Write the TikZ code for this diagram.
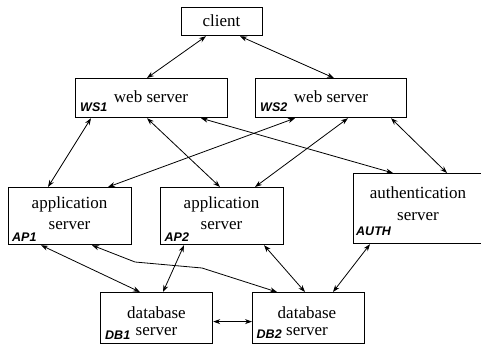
\documentclass[tikz,border=0pt]{standalone}
\usepackage{fontspec}
\setmainfont{Liberation Serif}
\newfontfamily\tagfont{Liberation Sans}
\usetikzlibrary{arrows.meta}
\begin{document}
\begin{tikzpicture}[x=1pt,y=-1pt,
  box/.style={draw, line width=1.2pt, inner sep=0pt, anchor=north west},
  txt/.style={font=\fontsize{17}{21}\selectfont, align=center, anchor=base, inner sep=0pt},
  tag/.style={font=\tagfont\bfseries\itshape\fontsize{12.5}{14}\selectfont, anchor=base west, inner sep=0pt},
  link/.style={line width=0.8pt, {Stealth[length=7pt,width=5pt]}-{Stealth[length=7pt,width=5pt]}}]
\useasboundingbox (0,0) rectangle (481,345);
% boxes
\node[box, minimum width=81pt,  minimum height=28pt] (client) at (181,7) {};
\node[box, minimum width=152pt, minimum height=39pt] (ws1) at (75,78) {};
\node[box, minimum width=151pt, minimum height=39pt] (ws2) at (255,78) {};
\node[box, minimum width=123pt, minimum height=57pt] (ap1) at (8,187) {};
\node[box, minimum width=123pt, minimum height=57pt] (ap2) at (160,187) {};
\node[box, minimum width=132pt, minimum height=70pt] (auth) at (353,173) {};
\node[box, minimum width=112pt, minimum height=51pt] (db1) at (100,292) {};
\node[box, minimum width=112pt, minimum height=51pt] (db2) at (252,292) {};
% texts (base anchor = baseline of the last line)
\node[txt] (clientt) at (221.5,27) {client};
\node[txt] (ws1t) at (151,102) {web server};
\node[txt] (ws2t) at (331,102) {web server};
\node[txt] (ap1t) at (69.5,229) {application\\server};
\node[txt] (ap2t) at (221.5,229) {application\\server};
\node[txt, font=\fontsize{17}{22}\selectfont] (autht) at (418,220) {authentication\\server};
\node[txt, font=\fontsize{17}{17.5}\selectfont] (db1t) at (156.5,335.5) {database\\server};
\node[txt, font=\fontsize{17}{17.5}\selectfont] (db2t) at (307,335.5) {database\\server};
% tags
\node[tag] (ws1g) at (80,111) {WS1};
\node[tag] (ws2g) at (260,111) {WS2};
\node[tag] (ap1g) at (12,241.5) {AP1};
\node[tag] (ap2g) at (164.5,241.5) {AP2};
\node[tag] (authg) at (356,235) {AUTH};
\node[tag] (db1g) at (105,339) {DB1};
\node[tag] (db2g) at (256.5,338.5) {DB2};
% connectors
\draw[link] ([xshift=25pt]client.south west) -- ([xshift=72pt]ws1.north west);
\draw[link] ([xshift=59pt]client.south west) -- ([xshift=79pt]ws2.north west);
\draw[link] ([xshift=16pt]ws1.south west) -- ([xshift=40pt]ap1.north west);
\draw[link] ([xshift=72pt]ws1.south west) -- ([xshift=60pt]ap2.north west);
\draw[link] ([xshift=126pt]ws1.south west) -- ([xshift=40pt]auth.north west);
\draw[link] ([xshift=40pt]ws2.south west) -- ([xshift=100pt]ap1.north west);
\draw[link] ([xshift=93pt]ws2.south west) -- ([xshift=95pt]ap2.north west);
\draw[link] ([xshift=136pt]ws2.south west) -- ([xshift=94pt]auth.north west);
\draw[link] ([xshift=33pt]ap1.south west) -- ([xshift=40pt]db1.north west);
\coordinate (b1) at (135,262);
\coordinate (b2) at (202,268);
\draw[link] ([xshift=84pt]ap1.south west) -- (b1) -- (b2) -- ([xshift=25pt]db2.north west);
\draw[link] ([xshift=24pt]ap2.south west) -- ([xshift=63pt]db1.north west);
\draw[link] ([xshift=104pt]ap2.south west) -- ([xshift=53pt]db2.north west);
\draw[link] ([xshift=17pt]auth.south west) -- ([xshift=81pt]db2.north west);
\draw[link] ([yshift=-3.5pt]db1.east) -- ([yshift=-3.5pt]db2.west);
\end{tikzpicture}
\end{document}
